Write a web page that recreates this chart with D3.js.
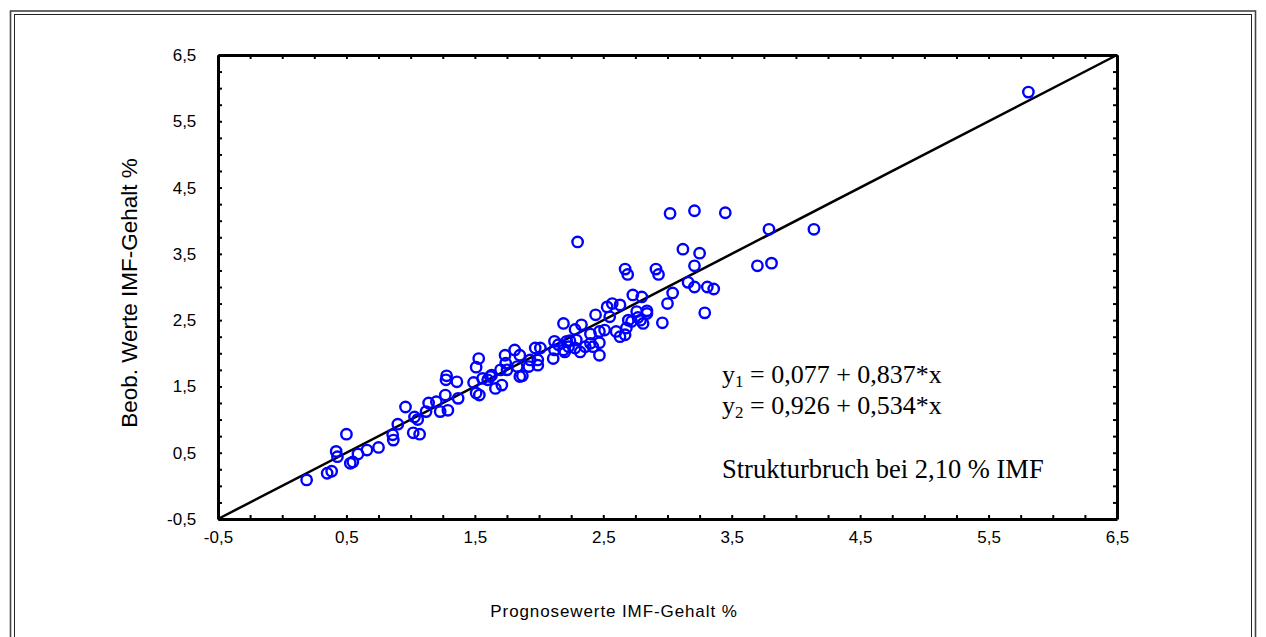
<!DOCTYPE html>
<html>
<head>
<meta charset="utf-8">
<script src="https://cdn.jsdelivr.net/npm/d3@7"></script>
<style>
  body { margin: 0; background: #fff; }
  svg { display: block; }
</style>
</head>
<body>
<div id="chart"></div>
<script>
// データ-----------------------------------------------------------------------------------------
const predicted = [
  0.19, 0.35, 0.385, 0.50, 0.42, 0.43, 0.53, 0.55, 0.59, 0.66, 0.75, 0.865, 0.86, 0.90, 0.96,
  1.02, 1.07, 1.03, 1.055, 1.12, 1.14, 1.20, 1.23, 1.27, 1.29, 1.28, 1.275, 1.36, 1.37,
  1.53, 1.51, 1.49, 1.51, 1.535, 1.56, 1.62, 1.60, 1.66, 1.71, 1.735, 1.74, 1.81, 1.85, 1.83,
  1.85, 1.87, 1.92, 1.97, 1.99, 1.99, 2.11, 2.15, 2.19, 2.215, 1.75, 1.70, 1.63, 1.93, 2.12,
  2.20, 2.19, 2.24, 2.28, 2.28, 2.33, 2.36, 2.40, 2.42, 2.47, 2.47, 2.47, 2.44, 2.51, 2.53,
  2.55, 2.57, 2.63, 2.60, 2.63, 2.67, 2.68, 2.695, 2.72, 2.73, 2.76, 2.80, 2.81, 2.84, 2.84,
  2.96, 3.00, 3.04, 3.16, 3.21, 3.31, 3.36, 3.29, 2.67, 2.69, 2.91, 2.93, 3.21, 3.12, 3.25,
  3.02, 3.21, 3.45, 2.30, 3.70, 3.81, 3.79, 4.14, 5.81, 2.77, 2.12, 2.01, 2.23, 2.29, 2.40,
  2.32, 2.79
];
const observed = [
  0.09, 0.19, 0.22, 0.78, 0.52, 0.44, 0.34, 0.36, 0.48, 0.54, 0.58, 0.69, 0.77, 0.93, 1.19,
  0.80, 0.78, 1.04, 1.00, 1.12, 1.25, 1.27, 1.12, 1.37, 1.14, 1.66, 1.60, 1.57, 1.32,
  1.92, 1.79, 1.56, 1.40, 1.37, 1.62, 1.65, 1.60, 1.47, 1.52, 1.97, 1.85, 2.05, 1.97, 1.80,
  1.65, 1.66, 1.80, 2.08, 1.90, 1.82, 1.92, 2.13, 2.05, 2.18, 1.75, 1.75, 1.67, 1.90, 2.05,
  2.02, 2.45, 2.19, 2.36, 2.08, 2.43, 2.10, 2.29, 2.10, 2.33, 2.16, 1.97, 2.58, 2.35, 2.70,
  2.55, 2.75, 2.73, 2.33, 2.25, 2.28, 2.38, 2.50, 2.48, 2.88, 2.63, 2.85, 2.45, 2.64, 2.60,
  2.46, 2.75, 2.91, 3.07, 3.00, 3.00, 2.97, 2.61, 3.27, 3.19, 3.27, 3.19, 3.32, 3.57, 3.51,
  4.11, 4.15, 4.12, 3.68, 3.32, 3.36, 3.87, 3.87, 5.94, 2.54, 2.18, 2.08, 2.10, 2.20, 2.15,
  2.02, 2.50
];
const tickLabels = ['-0,5', '0,5', '1,5', '2,5', '3,5', '4,5', '5,5', '6,5'];
const equations = [
  { name: 'y', sub: '1', text: ' = 0,077 + 0,837*x' },
  { name: 'y', sub: '2', text: ' = 0,926 + 0,534*x' }
];
const noteText = 'Strukturbruch bei 2,10 % IMF';
const xTitle = 'Prognosewerte IMF-Gehalt %';
const yTitle = 'Beob. Werte IMF-Gehalt %';

// SVG領域-----------------------------------------------------------------------------------------
const width = 1266;
const height = 637;
const margin = { top: 55, right: 149, bottom: 118, left: 218 };
const svg = d3.select('#chart').append('svg')
  .attr('width', width)
  .attr('height', height);

// 外枠---------------------------------------------------------------------------------------------
svg.append('rect')
  .attr('x', 10.5).attr('y', 11).attr('width', width - 21).attr('height', 700)
  .attr('fill', 'none').attr('stroke', '#444').attr('stroke-width', 1.6);
svg.append('rect')
  .attr('x', 14.5).attr('y', 14.5).attr('width', width - 29).attr('height', 700)
  .attr('fill', 'none').attr('stroke', '#222').attr('stroke-width', 1);

// スケール-----------------------------------------------------------------------------------------
const tickValues = tickLabels.map(d => +d.replace(',', '.'));
const xScale = d3.scaleLinear()
  .domain([-0.5, 6.5])
  .range([margin.left, width - margin.right]);
const yScale = d3.scaleLinear()
  .domain([-0.5, 6.5])
  .range([height - margin.bottom, margin.top]);
const minorTicks = d3.range(-0.5, 6.5001, 0.25);
const labelOf = d => {
  const i = tickValues.findIndex(t => Math.abs(t - d) < 1e-6);
  return i < 0 ? '' : tickLabels[i];
};

// 軸----------------------------------------------------------------------------------------------
const axisFont = '"Liberation Sans", Arial, sans-serif';
const addAxis = (axis, tx, ty, labels) => {
  const g = svg.append('g')
    .attr('transform', 'translate(' + tx + ',' + ty + ')')
    .call(axis.tickValues(minorTicks).tickSizeInner(-4).tickSizeOuter(0)
      .tickFormat(d => labels ? labelOf(d) : ''));
  g.select('.domain').attr('stroke-width', 3);
  g.selectAll('.tick line').attr('stroke-width', 2);
  g.selectAll('text')
    .attr('font-family', axisFont)
    .attr('font-size', '17px')
    .attr('fill', '#000');
  return g;
};
const xb = addAxis(d3.axisBottom(xScale), 0, height - margin.bottom, true);
xb.selectAll('text').attr('dy', '1.25em');
addAxis(d3.axisTop(xScale), 0, margin.top, false);
const yl = addAxis(d3.axisLeft(yScale), margin.left, 0, true);
yl.selectAll('text').attr('dx', '-1.1em');
addAxis(d3.axisRight(yScale), width - margin.right, 0, false);

// 対角線--------------------------------------------------------------------------------------------
svg.append('line')
  .attr('x1', xScale(-0.5)).attr('y1', yScale(-0.5))
  .attr('x2', xScale(6.5)).attr('y2', yScale(6.5))
  .attr('stroke', '#000')
  .attr('stroke-width', 2.5);

// 点------------------------------------------------------------------------------------------------
svg.append('g')
  .selectAll('circle')
  .data(predicted.map((d, i) => [d, observed[i]]))
  .enter()
  .append('circle')
  .attr('cx', d => xScale(d[0]))
  .attr('cy', d => yScale(d[1]))
  .attr('r', 5.2)
  .attr('fill', 'none')
  .attr('stroke', '#0000ff')
  .attr('stroke-width', 2.4);

// 軸タイトル------------------------------------------------------------------------------------------
svg.append('text')
  .attr('x', 614).attr('y', 617)
  .attr('text-anchor', 'middle')
  .attr('font-family', axisFont)
  .attr('font-size', '17px')
  .attr('letter-spacing', '0.9px')
  .text(xTitle);
svg.append('text')
  .attr('transform', 'translate(137,293) rotate(-90)')
  .attr('text-anchor', 'middle')
  .attr('font-family', axisFont)
  .attr('font-size', '22.5px')
  .text(yTitle);

// 式-----------------------------------------------------------------------------------------------
const serif = '"Liberation Serif", "Times New Roman", serif';
equations.forEach((e, i) => {
  const t = svg.append('text')
    .attr('x', 722).attr('y', 383 + i * 31)
    .attr('font-family', serif)
    .attr('font-size', '26px');
  t.append('tspan').text(e.name);
  t.append('tspan').attr('font-size', '17px').attr('dy', 4).text(e.sub);
  t.append('tspan').attr('dy', -4).text(e.text);
});
svg.append('text')
  .attr('x', 722).attr('y', 478)
  .attr('font-family', serif)
  .attr('font-size', '26.5px')
  .text(noteText);
</script>
</body>
</html>
